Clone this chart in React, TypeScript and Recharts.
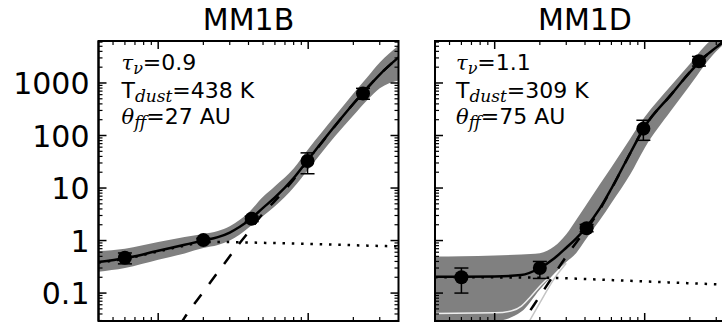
import React from 'react';
import { ComposedChart, Line, Area, Scatter, ErrorBar, XAxis, YAxis, ReferenceArea } from 'recharts';

// ---------- data ----------
const FREQ = [4, 6, 10, 15, 20, 25, 30, 35, 40, 50, 60, 80, 100, 150, 200, 250, 300, 400];

// MM1B model
const B_TOTAL = [0.39, 0.46, 0.64, 0.83, 1.0, 1.16, 1.42, 1.83, 2.37, 4.2, 6.6, 15.5, 35, 150, 403, 830, 1450, 3070];
const B_FF = [0.38, 0.45, 0.62, 0.8, 0.92, 0.94, 0.935, 0.925, 0.92, 0.905, 0.895, 0.875, 0.865, 0.835, 0.815, 0.8, 0.79, 0.77];
const B_LOW = [0.255, 0.3, 0.43, 0.57, 0.72, 0.82, 1.0, 1.3, 1.75, 2.95, 4.5, 10.2, 22.6, 95, 240, 484, 790, 1120];
const B_HIGH = [0.63, 0.7, 0.94, 1.17, 1.34, 1.52, 1.87, 2.5, 3.4, 6.8, 10.8, 23.5, 54.5, 229, 630, 1330, 2460, 5200];

// MM1D model
const D_TOTAL = [0.205, 0.205, 0.207, 0.22, 0.3, 0.46, 0.73, 1.1, 1.68, 4.0, 9.8, 46, 147, 600, 1600, 3120, 4760, 9300];
const D_FF = [0.2, 0.2, 0.199, 0.198, 0.196, 0.194, 0.192, 0.188, 0.185, 0.181, 0.177, 0.171, 0.167, 0.159, 0.154, 0.15, 0.147, 0.143];
const D_LOW = [0.0294, 0.0294, 0.0294, 0.044, 0.117, 0.237, 0.39, 0.58, 1.0, 2.4, 5.2, 18, 58, 300, 896, 2160, 4000, 8000];
const D_HIGH = [0.495, 0.5, 0.52, 0.545, 0.575, 0.775, 1.32, 2.5, 4.4, 11.5, 25, 87, 224, 900, 2300, 4970, 8060, 20000];

// dust components
const DUST_FREQ = [14, 15, 20, 25, 30, 35, 40, 50, 60, 80, 100, 150, 200, 250, 300, 400];
const B_DUST = [0.025, 0.034, 0.106, 0.25, 0.5, 0.9, 1.45, 3.3, 5.7, 14.6, 34, 149, 402, 829, 1449, 3069];
const D_DUST = [0.019, 0.0255, 0.088, 0.23, 0.5, 0.92, 1.5, 3.82, 9.6, 45.8, 147, 600, 1600, 3120, 4760, 9300];

// individual faint model curves inside the MM1D band
const WHITE_FREQ = [4, 10, 13, 15, 17, 20, 23];
const D_WHITE = [0.041, 0.042, 0.046, 0.056, 0.08, 0.135, 0.2];
const LIGHT_FREQ = [17, 20, 25, 30];
const D_LIGHT = [0.029, 0.065, 0.19, 0.37];

// measured points
const B_PT_FREQ = [6, 20, 42, 99, 232];
const B_FLUX = [0.47, 1.02, 2.6, 32.7, 630];
const B_ERR_LO = [0.11, 0.08, 0.3, 14, 140];
const B_ERR_HI = [0.11, 0.08, 0.3, 14, 160];

const D_PT_FREQ = [6, 20, 41, 98, 230];
const D_FLUX = [0.2, 0.3, 1.72, 135, 2600];
const D_ERR_LO = [0.1, 0.11, 0.25, 54, 500];
const D_ERR_HI = [0.1, 0.1, 0.3, 60, 600];

// ticks
const X_MAJOR = [10, 100];
const X_TICKS = [5, 6, 7, 8, 9, 10, 20, 30, 40, 50, 60, 70, 80, 90, 100, 200, 300];
const Y_MAJOR = [0.1, 1, 10, 100, 1000];
const Y_LABELS = ['0.1', '1', '10', '100', '1000'];
const Y_TICKS = [
  0.03, 0.04, 0.05, 0.06, 0.07, 0.08, 0.09, 0.1,
  0.2, 0.3, 0.4, 0.5, 0.6, 0.7, 0.8, 0.9, 1,
  2, 3, 4, 5, 6, 7, 8, 9, 10,
  20, 30, 40, 50, 60, 70, 80, 90, 100,
  200, 300, 400, 500, 600, 700, 800, 900, 1000,
  2000, 3000, 4000, 5000, 6000,
];

// ---------- layout ----------
const PLOT_TOP = 41;
const PLOT_H = 280;
const PLOT_W = 300;
const CHART_H = 331;
const X_DOMAIN: [number, number] = [4, 400];
const Y_DOMAIN: [number, number] = [0.0294, 6300];

const buildModel = (tot: number[], ff: number[], lo: number[], hi: number[]) =>
  FREQ.map((f, i) => ({ f, total: tot[i], ff: ff[i], band: [lo[i], hi[i]] }));
const buildSeries = (fr: number[], vals: number[]) => fr.map((f, i) => ({ f, v: vals[i] }));
const buildPoints = (fr: number[], v: number[], lo: number[], hi: number[]) =>
  fr.map((f, i) => ({ f, v: v[i], err: [lo[i], hi[i]] }));

const makeYTick = (showLabels: boolean) => (props: any) => {
  const { x, y, payload } = props;
  const idx = Y_MAJOR.indexOf(payload.value);
  const major = idx >= 0;
  const len = major ? 8 : 4;
  const sw = major ? 1.5 : 1.2;
  return (
    <g>
      <line x1={x} y1={y} x2={x + len} y2={y} stroke="#000" strokeWidth={sw} />
      <line x1={x + PLOT_W} y1={y} x2={x + PLOT_W - len} y2={y} stroke="#000" strokeWidth={sw} />
      {showLabels && major ? (
        <text x={x - 9} y={y + 11} textAnchor="end" fontFamily="DejaVu Sans" fontSize={30} fill="#000">
          {Y_LABELS[idx]}
        </text>
      ) : null}
    </g>
  );
};

const XTick = (props: any) => {
  const { x, y, payload } = props;
  const major = X_MAJOR.indexOf(payload.value) >= 0;
  const len = major ? 8 : 4;
  const sw = major ? 1.5 : 1.2;
  return (
    <g>
      <line x1={x} y1={y} x2={x} y2={y - len} stroke="#000" strokeWidth={sw} />
      <line x1={x} y1={y - PLOT_H} x2={x} y2={y - PLOT_H + len} stroke="#000" strokeWidth={sw} />
    </g>
  );
};

const Dot = (p: any) => <circle cx={p.cx} cy={p.cy} r={7} fill="#000" />;

type PanelProps = {
  left: number;
  plotLeft: number;
  marginRight: number;
  showLabels: boolean;
  model: any[];
  dust: any[];
  points: any[];
  white?: any[];
  light?: any[];
};

function Panel({ left, plotLeft, marginRight, showLabels, model, dust, points, white, light }: PanelProps) {
  const width = plotLeft + PLOT_W + marginRight;
  return (
    <div style={{ position: 'absolute', left, top: 0 }}>
      <ComposedChart
        width={width}
        height={CHART_H}
        data={model}
        margin={{ top: PLOT_TOP, left: plotLeft - 1, right: marginRight, bottom: CHART_H - PLOT_TOP - PLOT_H - 1 }}
      >
        <XAxis
          dataKey="f"
          type="number"
          scale="log"
          domain={X_DOMAIN}
          allowDataOverflow
          ticks={X_TICKS}
          interval={0}
          height={1}
          tickSize={0}
          tickMargin={0}
          axisLine={{ stroke: '#000', strokeWidth: 2 }}
          tickLine={false}
          tick={XTick}
        />
        <YAxis
          type="number"
          scale="log"
          domain={Y_DOMAIN}
          allowDataOverflow
          ticks={Y_TICKS}
          interval={0}
          width={1}
          tickSize={0}
          tickMargin={0}
          axisLine={{ stroke: '#000', strokeWidth: 2 }}
          tickLine={false}
          tick={makeYTick(showLabels)}
        />
        <Area
          dataKey="band"
          type="monotone"
          fill="#808080"
          fillOpacity={1}
          stroke="none"
          isAnimationActive={false}
          activeDot={false}
        />
        {light ? (
          <Line data={light} dataKey="v" type="monotone" stroke="#c4c4c4" strokeWidth={1.5} dot={false} activeDot={false} isAnimationActive={false} />
        ) : null}
        {white ? (
          <Line data={white} dataKey="v" type="monotone" stroke="#eeeeee" strokeWidth={1.5} dot={false} activeDot={false} isAnimationActive={false} />
        ) : null}
        <Line dataKey="ff" type="monotone" stroke="#000" strokeWidth={2.5} strokeDasharray="2.5 6.8" dot={false} activeDot={false} isAnimationActive={false} />
        <Line data={dust} dataKey="v" type="monotone" stroke="#000" strokeWidth={2.5} strokeDasharray="12 13" dot={false} activeDot={false} isAnimationActive={false} />
        <Line dataKey="total" type="monotone" stroke="#000" strokeWidth={2.5} dot={false} activeDot={false} isAnimationActive={false} />
        <Scatter data={points} dataKey="v" shape={Dot} isAnimationActive={false}>
          <ErrorBar dataKey="err" direction="y" width={7} stroke="#000" strokeWidth={1.5} isAnimationActive={false} />
        </Scatter>
        <ReferenceArea
          x1={X_DOMAIN[0]}
          x2={X_DOMAIN[1]}
          y1={Y_DOMAIN[0]}
          y2={Y_DOMAIN[1]}
          fill="none"
          fillOpacity={0}
          stroke="#000"
          strokeWidth={2}
          ifOverflow="visible"
        />
      </ComposedChart>
    </div>
  );
}

function Annotation({ x0, tau, tdust, theta }: { x0: number; tau: string; tdust: string; theta: string }) {
  const sans = 'DejaVu Sans';
  const serif = 'DejaVu Serif';
  return (
    <g fill="#000">
      <text x={x0} y={70} fontFamily={sans} fontSize={22}>
        <tspan fontFamily={serif} fontStyle="italic" fontSize={21}>τ</tspan>
        <tspan fontFamily={serif} fontStyle="italic" fontSize={16} dy={4}>ν</tspan>
        <tspan dy={-4}>={tau}</tspan>
      </text>
      <text x={x0} y={97.5} fontFamily={sans} fontSize={22}>
        <tspan>T</tspan>
        <tspan fontFamily={serif} fontStyle="italic" fontSize={17} dy={4}>dust</tspan>
        <tspan dy={-4}>={tdust} K</tspan>
      </text>
      <text x={x0} y={124} fontFamily={sans} fontSize={22}>
        <tspan fontFamily={serif} fontStyle="italic" fontSize={21}>θ</tspan>
        <tspan fontFamily={serif} fontStyle="italic" fontSize={17} dy={4}>ff</tspan>
        <tspan dy={-4}>={theta} AU</tspan>
      </text>
    </g>
  );
}

export default function App() {
  const modelB = buildModel(B_TOTAL, B_FF, B_LOW, B_HIGH);
  const modelD = buildModel(D_TOTAL, D_FF, D_LOW, D_HIGH);
  const dustB = buildSeries(DUST_FREQ, B_DUST);
  const dustD = buildSeries(DUST_FREQ, D_DUST);
  const whiteD = buildSeries(WHITE_FREQ, D_WHITE);
  const lightD = buildSeries(LIGHT_FREQ, D_LIGHT);
  const ptsB = buildPoints(B_PT_FREQ, B_FLUX, B_ERR_LO, B_ERR_HI);
  const ptsD = buildPoints(D_PT_FREQ, D_FLUX, D_ERR_LO, D_ERR_HI);

  return (
    <div style={{ position: 'absolute', left: 0, top: 0, width: 722, height: 323, overflow: 'hidden', background: '#fff' }}>
      <Panel left={0} plotLeft={98.5} marginRight={1.5} showLabels model={modelB} dust={dustB} points={ptsB} />
      <Panel left={400} plotLeft={35} marginRight={5} showLabels={false} model={modelD} dust={dustD} points={ptsD} white={whiteD} light={lightD} />
      <svg width={722} height={323} style={{ position: 'absolute', left: 0, top: 0, pointerEvents: 'none' }}>
        <text x={248.5} y={30} textAnchor="middle" fontFamily="DejaVu Sans" fontSize={30} fill="#000">MM1B</text>
        <text x={585} y={30} textAnchor="middle" fontFamily="DejaVu Sans" fontSize={30} fill="#000">MM1D</text>
        <Annotation x0={121.5} tau="0.9" tdust="438" theta="27" />
        <Annotation x0={456} tau="1.1" tdust="309" theta="75" />
      </svg>
    </div>
  );
}
